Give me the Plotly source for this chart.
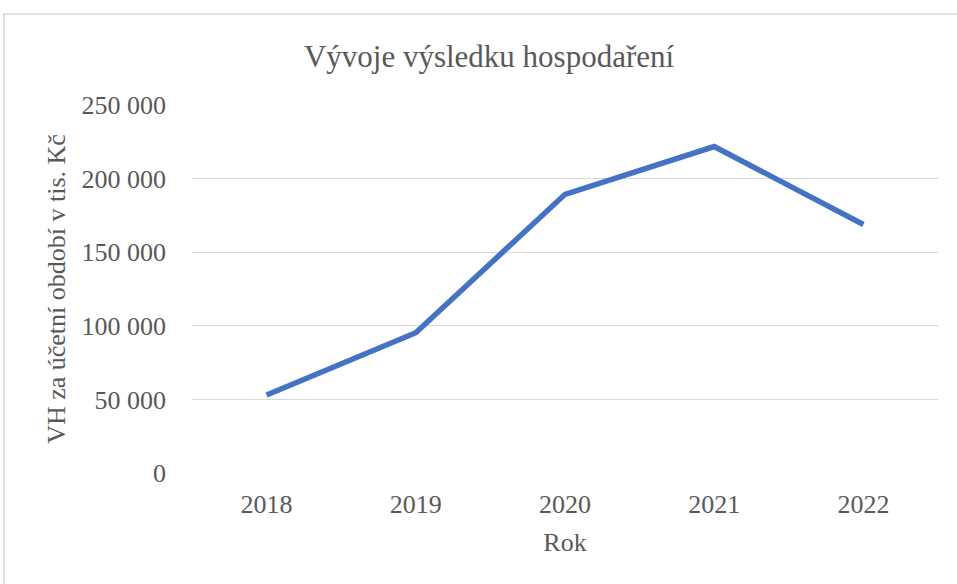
import plotly.graph_objects as go

years = ["2018", "2019", "2020", "2021", "2022"]
vh_values = [53000, 95300, 189300, 221800, 168800]
y_tick_vals = [0, 50000, 100000, 150000, 200000, 250000]
y_tick_text = ["0", "50 000", "100 000", "150 000", "200 000", "250 000"]

W, H = 957, 584
L, R, T, B = 192, 19, 105, 111
pw, ph = W - L - R, H - T - B

font_family = '"Liberation Serif", "Times New Roman", serif'
text_color = "#595959"

fig = go.Figure()
fig.add_trace(go.Scatter(
    x=years, y=vh_values, mode="lines",
    line=dict(color="#4472C4", width=5.5, shape="linear"),
    hoverinfo="x+y", showlegend=False,
))

fig.update_layout(
    width=W, height=H,
    margin=dict(l=L, r=R, t=T, b=B, autoexpand=False),
    paper_bgcolor="white", plot_bgcolor="white",
    font=dict(family=font_family, color=text_color, size=26),
    title=dict(text="Vývoje výsledku hospodaření", x=489 / W, xref="container", xanchor="center",
               y=1 - 56 / H, yref="container", yanchor="middle",
               font=dict(size=31, color=text_color, family=font_family)),
    xaxis=dict(
        type="category", range=[-0.5, 4.5], showgrid=False, zeroline=False,
        showline=False, ticks="", tickfont=dict(size=26, color=text_color, family=font_family),
        ticklabelstandoff=13,
        title=dict(text="Rok", font=dict(size=26, color=text_color, family=font_family), standoff=14),
    ),
    yaxis=dict(
        range=[0, 250000], tickvals=y_tick_vals, ticktext=y_tick_text,
        showgrid=True, gridcolor="#d9d9d9", gridwidth=1.3,
        zeroline=False, showline=False, ticks="",
        tickfont=dict(size=26, color=text_color, family=font_family), ticklabelstandoff=25,
        title=dict(text="VH za účetní období v tis. Kč", font=dict(size=26, color=text_color, family=font_family), standoff=8),
    ),
)

# outer chart border
fig.add_shape(type="rect", xref="paper", yref="paper",
              x0=(4 - L) / pw, x1=(W + 10 - L) / pw,
              y0=(H - B - (H + 10)) / ph, y1=(H - B - 14) / ph,
              line=dict(color="#d9d9d9", width=1.5), fillcolor="rgba(0,0,0,0)", layer="below")

fig.write_html("out.html", config={"displayModeBar": False},
               post_script="document.body.style.margin='0';")
